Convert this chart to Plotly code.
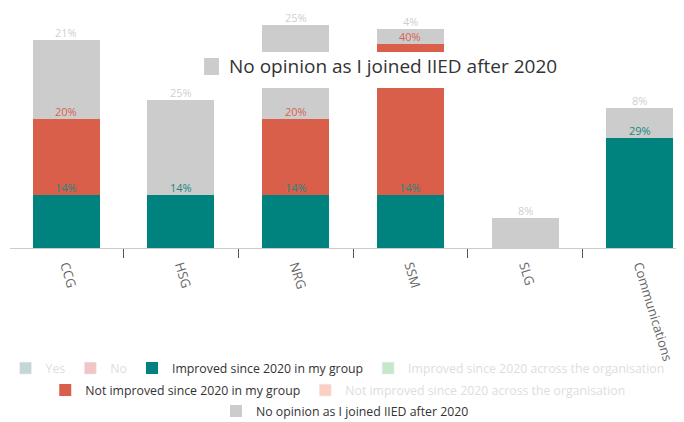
import plotly.graph_objects as go

categories = ["CCG", "HSG", "NRG", "SSM", "SLG", "Communications"]
improved_group = [14, 14, 14, 14, None, 29]
not_improved_group = [20, None, 20, 40, None, None]
no_opinion = [21, 25, 25, 4, 8, 8]
hidden_series = [None, None, None, None, None, None]

TEAL = "#00827f"
RED = "#d95f4b"
GRAY = "#cccccc"
FONT = "Open Sans, Noto Sans, sans-serif"

fig = go.Figure()

hidden_style = "<span style='color:#bdbdbd'>{}</span>"

# Legend row 1
fig.add_trace(go.Bar(x=categories, y=hidden_series, name=hidden_style.format("Yes"), marker_color="#8eaeac",
                     visible="legendonly", legend="legend"))
fig.add_trace(go.Bar(x=categories, y=hidden_series, name=hidden_style.format("No"), marker_color="#e48d8d",
                     visible="legendonly", legend="legend"))
fig.add_trace(go.Bar(x=categories, y=improved_group, name="Improved since 2020 in my group",
                     marker=dict(color=TEAL, line=dict(width=0)), legend="legend"))
fig.add_trace(go.Bar(x=categories, y=hidden_series, name=hidden_style.format("Improved since 2020 across the organisation"),
                     marker_color="#93cf95", visible="legendonly", legend="legend"))
# Legend row 2
fig.add_trace(go.Bar(x=categories, y=not_improved_group, name="Not improved since 2020 in my group",
                     marker=dict(color=RED, line=dict(width=0)), legend="legend2"))
fig.add_trace(go.Bar(x=categories, y=hidden_series, name=hidden_style.format("Not improved since 2020 across the organisation"),
                     marker_color="#f7a386", visible="legendonly", legend="legend2"))
# Legend row 3
fig.add_trace(go.Bar(x=categories, y=no_opinion, name="No opinion as I joined IIED after 2020",
                     marker=dict(color=GRAY, line=dict(width=0)), legend="legend3"))

fig.update_traces(hoverinfo="skip")

# data labels at top of each segment
series = [(improved_group, "#1a8884"), (not_improved_group, "#d9634f"), (no_opinion, "#cfcfcf")]
for i, cat in enumerate(categories):
    base = 0
    for vals, col in series:
        v = vals[i]
        if v is None:
            continue
        base += v
        fig.add_annotation(x=cat, y=base, text=f"{v}%", showarrow=False, yanchor="bottom",
                           yshift=-2, font=dict(family=FONT, size=11, color=col))

# enlarged hover legend overlay
fig.add_shape(type="rect", xref="paper", yref="paper", x0=0.276, x1=0.822, y0=0.705, y1=0.863,
              fillcolor="white", line=dict(width=0), layer="above")
fig.add_shape(type="rect", xref="paper", yref="paper", x0=0.288, x1=0.310, y0=0.762, y1=0.837,
              fillcolor=GRAY, line=dict(width=0), layer="above")
fig.add_annotation(xref="paper", yref="paper", x=0.322, y=0.802, xanchor="left", yanchor="middle",
                   text="No opinion as I joined IIED after 2020", showarrow=False,
                   font=dict(family=FONT, size=19, color="#333333"))

legend_common = dict(orientation="h", xanchor="center", yanchor="middle",
                     font=dict(family=FONT, size=12.3, color="#333333"), bgcolor="rgba(0,0,0,0)",
                     itemclick=False, itemdoubleclick=False, tracegroupgap=0, itemwidth=30,
                     traceorder="normal")

# the page body adds an 8px offset; size the figure so the window shows the full chart
fig.update_layout(
    width=676, height=414,
    barmode="stack", bargap=0.415,
    plot_bgcolor="white", paper_bgcolor="white",
    margin=dict(l=2, r=0, t=13, b=174, autoexpand=False),
    showlegend=True,
    legend=dict(y=-0.529, x=0.486, **legend_common),
    legend2=dict(y=-0.626, x=0.487, **legend_common),
    legend3=dict(y=-0.718, x=0.497, **legend_common),
    xaxis=dict(type="category", range=[-0.49, 5.385], showline=True, linecolor="#cccccc",
               linewidth=1, ticks="outside", tickson="boundaries", ticklen=9, tickcolor="#555555",
               tickwidth=1, tickangle=73, ticklabelstandoff=4,
               tickfont=dict(family=FONT, size=13, color="#666666"),
               showgrid=False, zeroline=False, automargin=False),
    yaxis=dict(range=[0, 60], visible=False, showgrid=False, zeroline=False, automargin=False),
)

fig.write_html("out.html")
